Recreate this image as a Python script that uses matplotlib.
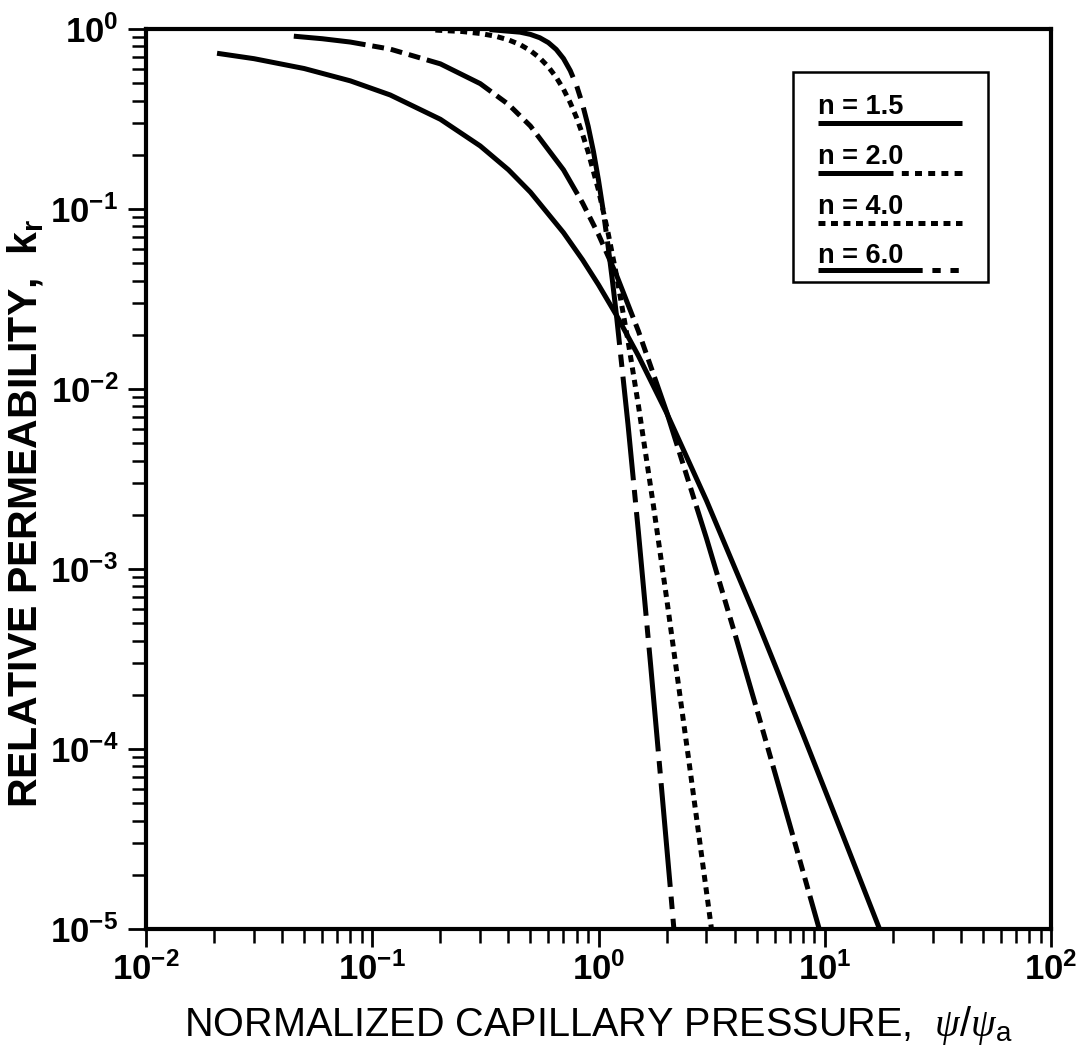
"""
Relative permeability vs. normalized capillary pressure
=======================================================
Log-log plot of k_r against psi/psi_a for four pore-size index values.
Saves out.png (1080 x 1050).
"""

import matplotlib
matplotlib.use("Agg")
import numpy as np
import matplotlib.pyplot as plt
from matplotlib.ticker import LogLocator, FuncFormatter, NullFormatter
from matplotlib.patches import Rectangle

# ============================
# Configuration
# ============================
plt.rcParams['font.family'] = ['Liberation Sans', 'DejaVu Sans']
plt.rcParams['mathtext.fontset'] = 'custom'
plt.rcParams['mathtext.rm'] = 'Liberation Sans'
plt.rcParams['mathtext.bf'] = 'Liberation Sans:bold'
plt.rcParams['mathtext.it'] = 'Liberation Serif:italic'
plt.rcParams['lines.scale_dashes'] = False

OUTPUT_PATH = "out.png"
LINE_W = 3.6

# ============================
# Data
# ============================
labels = ["n = 1.5", "n = 2.0", "n = 4.0", "n = 6.0"]

x_n15 = [0.0206, 0.03, 0.05, 0.08, 0.12, 0.2, 0.3, 0.4, 0.5, 0.7, 0.85,
         1.0, 1.2, 1.5, 2.0, 3.0, 5.0, 8.0, 12.0, 18.3]
kr_n15 = [0.733, 0.684, 0.603, 0.515, 0.430, 0.315, 0.224, 0.165, 0.124,
          0.0739, 0.0522, 0.0379, 0.0257, 0.0153, 0.00737, 0.00240,
          5.23e-4, 1.21e-4, 3.33e-5, 8.6e-6]

x_n20 = [0.045, 0.06, 0.08, 0.12, 0.2, 0.3, 0.4, 0.5, 0.7, 0.85, 1.0, 1.2,
         1.5, 2.0, 3.0, 4.0, 5.0, 7.0, 9.5]
kr_n20 = [0.912, 0.883, 0.846, 0.773, 0.640, 0.497, 0.381, 0.289, 0.165,
          0.108, 0.0721, 0.0430, 0.0210, 0.00745, 0.00148, 4.39e-4,
          1.67e-4, 3.80e-5, 9.77e-6]

x_n40 = [0.19, 0.25, 0.3, 0.35, 0.4, 0.45, 0.5, 0.55, 0.6, 0.65, 0.7, 0.75,
         0.8, 0.85, 0.9, 1.0, 1.1, 1.2, 1.35, 1.5, 1.75, 2.0, 2.5, 3.0, 3.2]
kr_n40 = [0.986, 0.968, 0.944, 0.912, 0.870, 0.819, 0.758, 0.690, 0.616,
          0.539, 0.463, 0.389, 0.321, 0.260, 0.207, 0.127, 0.0745, 0.0429,
          0.0185, 0.00813, 0.00223, 6.86e-4, 8.84e-5, 1.61e-5, 8.8e-6]

x_n60 = [0.33, 0.45, 0.5, 0.55, 0.6, 0.65, 0.7, 0.75, 0.8, 0.85, 0.9, 0.95,
         1.0, 1.05, 1.1, 1.15, 1.2, 1.35, 1.5, 1.7, 1.9, 2.1, 2.2]
kr_n60 = [0.992, 0.960, 0.933, 0.894, 0.840, 0.770, 0.685, 0.587, 0.484,
          0.381, 0.288, 0.208, 0.144, 0.0969, 0.0634, 0.0406, 0.0257,
          0.00634, 0.00161, 2.91e-4, 6.01e-5, 1.44e-5, 7.3e-6]

# dash patterns (points): curve, then legend sample
curve_styles = [
    '-',
    (0, (52, 5, 8.5, 5, 8.5, 5, 8.5, 5)),
    (0, (5, 4)),
    (0, (75, 7, 9, 7)),
]
legend_styles = [
    '-',
    (0, (54, 6, 5, 4.5, 5, 4.5, 5, 4.5, 5, 4.5)),
    (0, (5, 4)),
    (0, (75, 7, 6, 7, 6, 7)),
]

# ============================
# Plot
# ============================
fig = plt.figure(figsize=(10.8, 10.5), dpi=100)
ax = fig.add_axes([0.1352, 0.1152, 0.8380, 0.8572])

series = [(x_n15, kr_n15), (x_n20, kr_n20), (x_n40, kr_n40), (x_n60, kr_n60)]
for (xs, ys), ls in zip(series, curve_styles):
    ax.plot(xs, ys, color='black', lw=LINE_W, linestyle=ls,
            dash_capstyle='butt', solid_capstyle='butt',
            solid_joinstyle='round', dash_joinstyle='round')

ax.set_xscale('log')
ax.set_yscale('log')
ax.set_xlim(1e-2, 1e2)
ax.set_ylim(1e-5, 1e0)

for sp in ax.spines.values():
    sp.set_linewidth(3.0)

dec_fmt = FuncFormatter(lambda v, pos: r'$\mathbf{10^{%d}}$' % int(round(np.log10(v))))
for axis in (ax.xaxis, ax.yaxis):
    axis.set_major_locator(LogLocator(base=10, numticks=10))
    axis.set_minor_locator(LogLocator(base=10, subs=np.arange(2, 10), numticks=20))
    axis.set_major_formatter(dec_fmt)
    axis.set_minor_formatter(NullFormatter())

ax.tick_params(which='major', direction='out', length=13, width=2.0,
               labelsize=25, top=False, right=False)
ax.tick_params(which='minor', direction='out', length=10, width=1.8,
               top=False, right=False)
ax.tick_params(axis='x', which='major', pad=4)
ax.tick_params(axis='y', which='major', pad=7)

ax.set_xlabel(r'NORMALIZED CAPILLARY PRESSURE,  $\psi/\psi_{\rm a}$', fontsize=28.5)
ax.set_ylabel(r'RELATIVE PERMEABILITY,  $\mathbf{k_r}$', fontsize=29.5,
              fontweight='bold')
ax.xaxis.set_label_coords(0.5, -0.083)
ax.yaxis.set_label_coords(-0.11, 0.462)

# ============================
# Legend (hand-built: label above sample line)
# ============================
ax.add_patch(Rectangle((0.715, 0.719), 0.215, 0.233, transform=ax.transAxes,
                       fill=False, lw=1.8, edgecolor='black', zorder=5))
text_y = [0.9056, 0.8500, 0.7944, 0.7400]
line_y = [0.8956, 0.8400, 0.7844, 0.7322]
for lab, ty, ly, ls in zip(labels, text_y, line_y, legend_styles):
    ax.text(0.7425, ty, lab, transform=ax.transAxes, fontsize=19.5,
            fontweight='bold', va='baseline', ha='left')
    ax.plot([0.7425, 0.9017], [ly, ly], transform=ax.transAxes, color='black',
            lw=LINE_W, linestyle=ls, dash_capstyle='butt',
            solid_capstyle='butt', clip_on=False)

fig.savefig(OUTPUT_PATH, dpi=100)
print(f"Saved {OUTPUT_PATH}")
